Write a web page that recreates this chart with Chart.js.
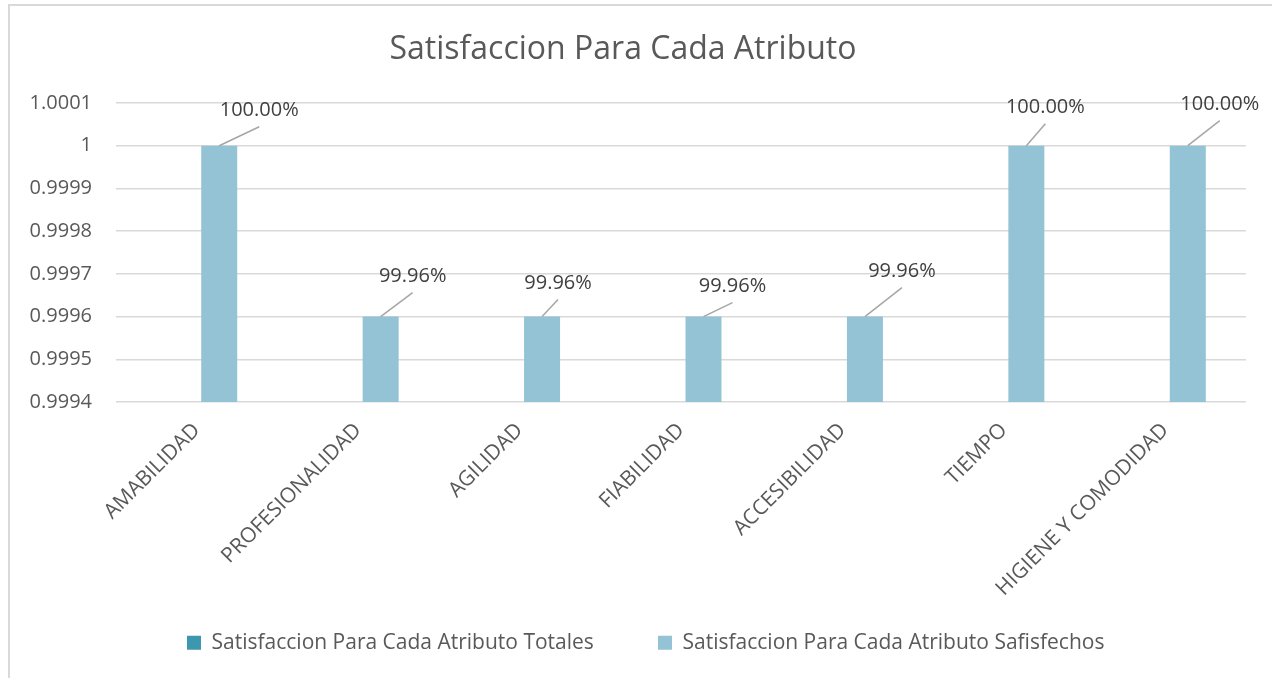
<!DOCTYPE html>
<html>
<head>
<meta charset="utf-8">
<script src="https://cdn.jsdelivr.net/npm/chart.js@4/dist/chart.umd.min.js"></script>
<style>
  html, body { margin: 0; padding: 0; background: #ffffff; }
  canvas { display: block; }
</style>
</head>
<body>
<canvas id="c" width="1272" height="678"></canvas>
<script>
// ---- data ----
const chartTitle = "Satisfaccion Para Cada Atributo";
const categories = ["AMABILIDAD", "PROFESIONALIDAD", "AGILIDAD", "FIABILIDAD", "ACCESIBILIDAD", "TIEMPO", "HIGIENE Y COMODIDAD"];
const seriesNames = ["Satisfaccion Para Cada Atributo Totales", "Satisfaccion Para Cada Atributo Safisfechos"];
const totales = [null, null, null, null, null, null, null];
const satisfechos = [1, 0.9996, 0.9996, 0.9996, 0.9996, 1, 1];
const yTicks = [0.9994, 0.9995, 0.9996, 0.9997, 0.9998, 0.9999, 1, 1.0001];

// ---- styling / layout (not data) ----
const FONT = "'Open Sans', 'Noto Sans', sans-serif";
const TEXT = "#595959";
const labelOffsets = [[40, -35], [32, -40], [16, -33], [29, -30], [37, -45], [19, -38], [32, -41]];
const legendItemLeft = [187, 658];   // where each legend item starts

const bgPlugin = {
  id: 'bg',
  beforeDraw(chart) {
    const ctx = chart.ctx;
    ctx.save();
    ctx.fillStyle = '#ffffff';
    ctx.fillRect(0, 0, chart.width, chart.height);
    ctx.strokeStyle = '#d9d9d9';
    ctx.lineWidth = 2;
    ctx.beginPath();
    ctx.moveTo(9, chart.height);
    ctx.lineTo(9, 5);
    ctx.lineTo(chart.width, 5);
    ctx.stroke();
    ctx.restore();
    // place each legend item where the reference has it
    const lg = chart.legend;
    if (lg && !lg._placed) {
      lg._placed = true;
      const orig = lg.draw.bind(lg);
      lg.draw = function (area) {
        const hb = this.legendHitBoxes;
        if (!hb || !hb.length) { orig(area); return; }
        const c = chart.ctx;
        hb.forEach((h, i) => {
          c.save();
          c.translate(legendItemLeft[i] - h.left, 0);
          c.beginPath();
          c.rect(h.left - 1, this.top, h.width + 4, this.height);
          c.clip();
          orig(area);
          c.restore();
        });
      };
    }
  }
};

const labelPlugin = {
  id: 'barLabels',
  afterDatasetsDraw(chart) {
    const ctx = chart.ctx;
    const meta = chart.getDatasetMeta(1);
    ctx.save();
    ctx.font = "20px " + FONT;
    ctx.fillStyle = '#404040';
    ctx.textAlign = 'center';
    ctx.textBaseline = 'middle';
    meta.data.forEach((bar, i) => {
      const v = satisfechos[i];
      if (v == null) return;
      const [dx, dy] = labelOffsets[i];
      const x = bar.x, y = bar.y;
      ctx.strokeStyle = '#a6a6a6';
      ctx.lineWidth = 1.5;
      ctx.beginPath();
      ctx.moveTo(x, y);
      ctx.lineTo(x + dx, y + dy + 16);
      ctx.stroke();
      ctx.fillText((v * 100).toFixed(2) + '%', x + dx, y + dy);
    });
    ctx.restore();
  }
};

new Chart(document.getElementById('c'), {
  type: 'bar',
  data: {
    labels: categories,
    datasets: [
      { label: seriesNames[0], data: totales, backgroundColor: '#3C97AF', borderWidth: 0,
        categoryPercentage: 0.5576, barPercentage: 0.8 },
      { label: seriesNames[1], data: satisfechos, backgroundColor: '#93C3D4', borderWidth: 0,
        categoryPercentage: 0.5576, barPercentage: 0.8 }
    ]
  },
  options: {
    responsive: false,
    animation: false,
    devicePixelRatio: 1,
    layout: { padding: { left: 0, right: 26, top: 0, bottom: 14.8 } },
    plugins: {
      title: {
        display: true,
        text: chartTitle,
        color: TEXT,
        font: { family: FONT, size: 32, weight: 'normal' },
        padding: { top: 31, bottom: 33.6 }
      },
      legend: {
        position: 'bottom',
        labels: {
          color: TEXT,
          font: { family: FONT, size: 21 },
          boxWidth: 14,
          boxHeight: 14,
          padding: 10
        }
      },
      tooltip: { enabled: false }
    },
    scales: {
      x: {
        grid: { display: false },
        border: { display: false },
        ticks: {
          color: TEXT,
          font: { family: FONT, size: 21 },
          maxRotation: 45,
          minRotation: 45,
          autoSkip: false,
          padding: 8
        },
        afterFit(s) { s.height = 220.2; }
      },
      y: {
        min: yTicks[0],
        max: yTicks[yTicks.length - 1],
        grid: { color: '#d9d9d9', lineWidth: 1.5, drawTicks: false },
        border: { display: false },
        afterBuildTicks(s) { s.ticks = yTicks.map(v => ({ value: v })); },
        ticks: {
          color: TEXT,
          font: { family: FONT, size: 20 },
          padding: 24,
          callback: (v) => String(Number(Number(v).toFixed(4)))
        },
        afterFit(s) { s.width = 116; }
      }
    }
  },
  plugins: [bgPlugin, labelPlugin]
});
</script>
</body>
</html>
